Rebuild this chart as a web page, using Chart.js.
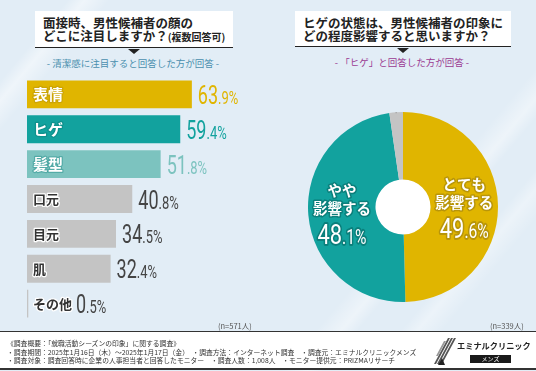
<!DOCTYPE html>
<html>
<head>
<meta charset="utf-8">
<title>ヒゲと面接の印象</title>
<script src="https://cdn.jsdelivr.net/npm/chart.js"></script>
<style>
  html, body { margin: 0; padding: 0; }
  body {
    width: 536px; height: 371px; overflow: hidden; position: relative;
    font-family: "Noto Sans CJK JP", "Noto Sans", sans-serif; color: #222;
    background:
      linear-gradient(130deg, transparent 8%, rgba(255,255,255,0.45) 10%, transparent 13%, transparent 100%),
      linear-gradient(130deg, transparent 70%, rgba(255,255,255,0.4) 73%, transparent 75%, transparent 80%, rgba(255,255,255,0.35) 82%, transparent 85%),
      #e2edf6;
  }
  .qbox {
    position: absolute; background: #fff; border-bottom: 1.5px solid #222;
    font-weight: 700; font-size: 12.5px; line-height: 13px; padding: 5px 0 0 8px; box-sizing: border-box;
  }
  .qbox small { font-size: 10px; font-weight: 700; }
  .qbox:after {
    content: ""; position: absolute; bottom: -6.5px; left: 50%; margin-left: -6px;
    border-left: 6px solid transparent; border-right: 6px solid transparent; border-top: 5px solid #222;
  }
  .sub { position: absolute; font-size: 9.5px; white-space: nowrap; transform: translateX(-50%); }
  .n { position: absolute; font-size: 7.5px; color: #555; white-space: nowrap; }
  canvas { position: absolute; }
  #footer {
    position: absolute; left: 0; top: 331px; width: 536px; height: 36px; background: #fff;
    border-top: 1.5px solid #333; border-bottom: 2px solid #333;
  }
  #footer .txt { position: absolute; left: 7px; top: 7px; font-size: 6.8px; line-height: 8.5px; color: #333; white-space: nowrap; }
  #logo { position: absolute; left: 434px; top: 3px; width: 100px; height: 32px; }
  #logo .name { position: absolute; left: 23px; top: 4px; font-size: 8.2px; font-weight: 700; color: #222; white-space: nowrap; }
  #logo .mens { position: absolute; left: 36px; top: 20px; width: 41px; height: 8px; background: #1a1a1a; color: #fff; font-size: 6px; line-height: 8px; text-align: center; }
</style>
</head>
<body>
<div class="qbox" style="left:35px; top:11px; width:198px; height:37px;">面接時、男性候補者の顔の<br>どこに注目しますか？<small>(複数回答可)</small></div>
<div class="sub" style="left:133px; top:56px; color:#4a8fae;">- 清潔感に注目すると回答した方が回答 -</div>

<div class="qbox" style="left:295px; top:11px; width:216px; height:36px;">ヒゲの状態は、男性候補者の印象に<br>どの程度影響すると思いますか？</div>
<div class="sub" style="left:402px; top:55px; color:#9a3a92;">- 「ヒゲ」と回答した方が回答 -</div>

<canvas id="barChart" width="258" height="244" style="left:27px; top:77px;"></canvas>
<canvas id="pieChart" width="190" height="190" style="left:308px; top:112px;"></canvas>

<div class="n" style="left:218px; top:320px;">(n=571人)</div>
<div class="n" style="left:490px; top:320px;">(n=339人)</div>

<div id="footer">
  <div class="txt">《調査概要：「就職活動シーズンの印象」に関する調査》<br>・調査期間：2025年1月16日（木）～2025年1月17日（金）　・調査方法：インターネット調査　・調査元：エミナルクリニックメンズ<br>・調査対象：調査回答時に企業の人事担当者と回答したモニター　・調査人数：1,008人　・モニター提供元：PRIZMAリサーチ</div>
  <div id="logo">
    <svg width="22" height="30" style="position:absolute;left:0;top:1px">
      <polygon points="0,28 2,28 16,2 14,2" fill="#555"/>
      <polygon points="3,28 5,28 19,2 17,2" fill="#555"/>
      <polygon points="6,28 8,28 22,2 20,2" fill="#555"/>
      <polygon points="2,20 4,20 12,5 10,5" fill="#999"/>
      <polygon points="4,29 8,22 11,29" fill="#222"/>
    </svg>
    <div class="name">エミナルクリニック</div>
    <div class="mens">メンズ</div>
  </div>
</div>

<script>
// 左：顔のどこに注目するか（複数回答）
const barLabels = ['表情', 'ヒゲ', '髪型', '口元', '目元', '肌', 'その他'];
const barValues = [63.9, 59.4, 51.8, 40.8, 34.5, 32.4, 0.5];

// 右：ヒゲの状態が印象に与える影響
const pieLabels = [['とても', '影響する'], ['やや', '影響する'], ['あまり', '影響しない']];
const pieValues = [49.6, 48.1, 2.3];

const barColors = ['#e0b500', '#12a29e', '#7cc3bf', '#c4c4c4', '#c4c4c4', '#c4c4c4', '#c4c4c4'];
const barTextColors = ['#e0b500', '#12a29e', '#7cc3bf', '#444', '#444', '#444', '#444'];
const pieColors = ['#e0b500', '#12a29e', '#c4c4c4'];
const pieStroke = ['#b8950a', '#0b7f7b', '#999'];

// 数字は整数部を大きく、小数部と%を小さく（横に詰めて描く）
function drawPct(ctx, x, y, v, big, small, sq, stroke) {
  const s = v.toFixed(1).split('.');
  const a = s[0], b = '.' + s[1] + '%';
  ctx.save();
  ctx.translate(x, y);
  ctx.scale(sq, 1);
  ctx.font = '400 ' + big + 'px Roboto';
  const w1 = ctx.measureText(a).width;
  if (stroke) ctx.strokeText(a, 0, 0);
  ctx.fillText(a, 0, 0);
  ctx.font = '400 ' + small + 'px Roboto';
  const w2 = ctx.measureText(b).width;
  if (stroke) ctx.strokeText(b, w1, 0);
  ctx.fillText(b, w1, 0);
  ctx.restore();
  return (w1 + w2) * sq;
}
function pctWidth(ctx, v, big, small, sq) {
  const s = v.toFixed(1).split('.');
  ctx.save();
  ctx.font = '400 ' + big + 'px Roboto';
  const w1 = ctx.measureText(s[0]).width;
  ctx.font = '400 ' + small + 'px Roboto';
  const w2 = ctx.measureText('.' + s[1] + '%').width;
  ctx.restore();
  return (w1 + w2) * sq;
}

const barLabelPlugin = {
  id: 'barLabels',
  afterDatasetsDraw(chart) {
    const ctx = chart.ctx;
    const meta = chart.getDatasetMeta(0);
    const x0 = chart.scales.x.getPixelForValue(0);
    ctx.save();
    ctx.lineJoin = 'round';
    meta.data.forEach((bar, i) => {
      const cy = bar.y;
      const size = i < 3 ? 15 : 13;
      ctx.textBaseline = 'middle';
      ctx.font = '700 ' + size + 'px "Noto Sans CJK JP"';
      const lx = x0 + 6;
      const lw = ctx.measureText(barLabels[i]).width;
      ctx.lineWidth = 2.5;
      if (i < 3) {
        ctx.strokeStyle = pieStroke[i === 2 ? 1 : i];
        ctx.globalAlpha = i === 2 ? 0.35 : 0.5;
        ctx.strokeText(barLabels[i], lx, cy);
        ctx.globalAlpha = 1;
        ctx.fillStyle = '#fff';
      } else {
        ctx.strokeStyle = '#fff';
        ctx.strokeText(barLabels[i], lx, cy);
        ctx.fillStyle = '#333';
      }
      ctx.fillText(barLabels[i], lx, cy);

      const vx = Math.max(bar.x + 6, lx + lw + 4);
      ctx.textBaseline = 'alphabetic';
      ctx.fillStyle = barTextColors[i];
      drawPct(ctx, vx, cy + 9.5, barValues[i], 25, 18, 0.72, false);
    });
    ctx.restore();
  }
};

const pieLabelPlugin = {
  id: 'pieLabels',
  beforeDatasetsDraw(chart) {
    const arc = chart.getDatasetMeta(0).data[0];
    const ctx = chart.ctx;
    ctx.save();
    ctx.fillStyle = '#fff';
    ctx.beginPath();
    ctx.arc(arc.x, arc.y, arc.innerRadius, 0, Math.PI * 2);
    ctx.fill();
    ctx.restore();
  },
  afterDatasetsDraw(chart) {
    const ctx = chart.ctx;
    const meta = chart.getDatasetMeta(0);
    ctx.save();
    ctx.lineJoin = 'round';
    meta.data.forEach((arc, i) => {
      const mid = (arc.startAngle + arc.endAngle) / 2;
      if (i < 2) {
        const r = (arc.innerRadius + arc.outerRadius) / 2;
        const px = arc.x + Math.cos(mid) * r;
        const py = arc.y + Math.sin(mid) * r;
        ctx.textAlign = 'center';
        ctx.textBaseline = 'middle';
        ctx.font = '700 14.5px "Noto Sans CJK JP"';
        ctx.strokeStyle = pieStroke[i];
        ctx.lineWidth = 3;
        ctx.fillStyle = '#fff';
        pieLabels[i].forEach((t, k) => {
          const ty = py + (k === 0 ? -22 : -4);
          ctx.strokeText(t, px, ty);
          ctx.fillText(t, px, ty);
        });
        ctx.textAlign = 'left';
        ctx.textBaseline = 'alphabetic';
        const w = pctWidth(ctx, pieValues[i], 28, 20, 0.78);
        ctx.lineWidth = 3 / 0.78;
        drawPct(ctx, px - w / 2, py + 32, pieValues[i], 28, 20, 0.78, true);
      } else {
        // 外側ラベルと引き出し線
        const ox = arc.x + Math.cos(mid) * arc.outerRadius;
        const oy = arc.y + Math.sin(mid) * arc.outerRadius;
        ctx.strokeStyle = '#999';
        ctx.lineWidth = 1;
        ctx.beginPath();
        ctx.moveTo(ox, oy + 1);
        ctx.lineTo(ox, oy - 7);
        ctx.lineTo(ox - 8, oy - 7);
        ctx.stroke();
        ctx.textAlign = 'left';
        ctx.textBaseline = 'middle';
        ctx.font = '400 12px "Noto Sans CJK JP"';
        const tw = ctx.measureText(pieLabels[i][1]).width;
        const pw = pctWidth(ctx, pieValues[i], 16, 11.5, 0.8);
        const sx = ox - 14 - pw - 10 - tw;
        ctx.fillStyle = '#444';
        ctx.fillText(pieLabels[i][0], sx, oy - 25);
        ctx.fillText(pieLabels[i][1], sx, oy - 8);
        ctx.textBaseline = 'alphabetic';
        drawPct(ctx, sx + tw + 10, oy - 2.5, pieValues[i], 16, 11.5, 0.8, false);
      }
    });
    ctx.restore();
  }
};

new Chart(document.getElementById('barChart').getContext('2d'), {
  type: 'bar',
  data: {
    labels: barLabels,
    datasets: [{
      data: barValues,
      backgroundColor: barColors,
      borderWidth: 0,
      barPercentage: 0.8,
      categoryPercentage: 1
    }]
  },
  options: {
    indexAxis: 'y',
    responsive: false,
    animation: false,
    layout: { padding: 0 },
    plugins: { legend: { display: false }, tooltip: { enabled: false } },
    scales: {
      x: { display: false, min: 0, max: 100 },
      y: { display: false }
    }
  },
  plugins: [barLabelPlugin]
});

new Chart(document.getElementById('pieChart').getContext('2d'), {
  type: 'doughnut',
  data: {
    labels: pieLabels.map(l => l.join('')),
    datasets: [{
      data: pieValues,
      backgroundColor: pieColors,
      borderWidth: 0
    }]
  },
  options: {
    responsive: false,
    animation: false,
    cutout: '29%',
    layout: { padding: 0 },
    plugins: { legend: { display: false }, tooltip: { enabled: false } }
  },
  plugins: [pieLabelPlugin]
});
</script>
</body>
</html>
